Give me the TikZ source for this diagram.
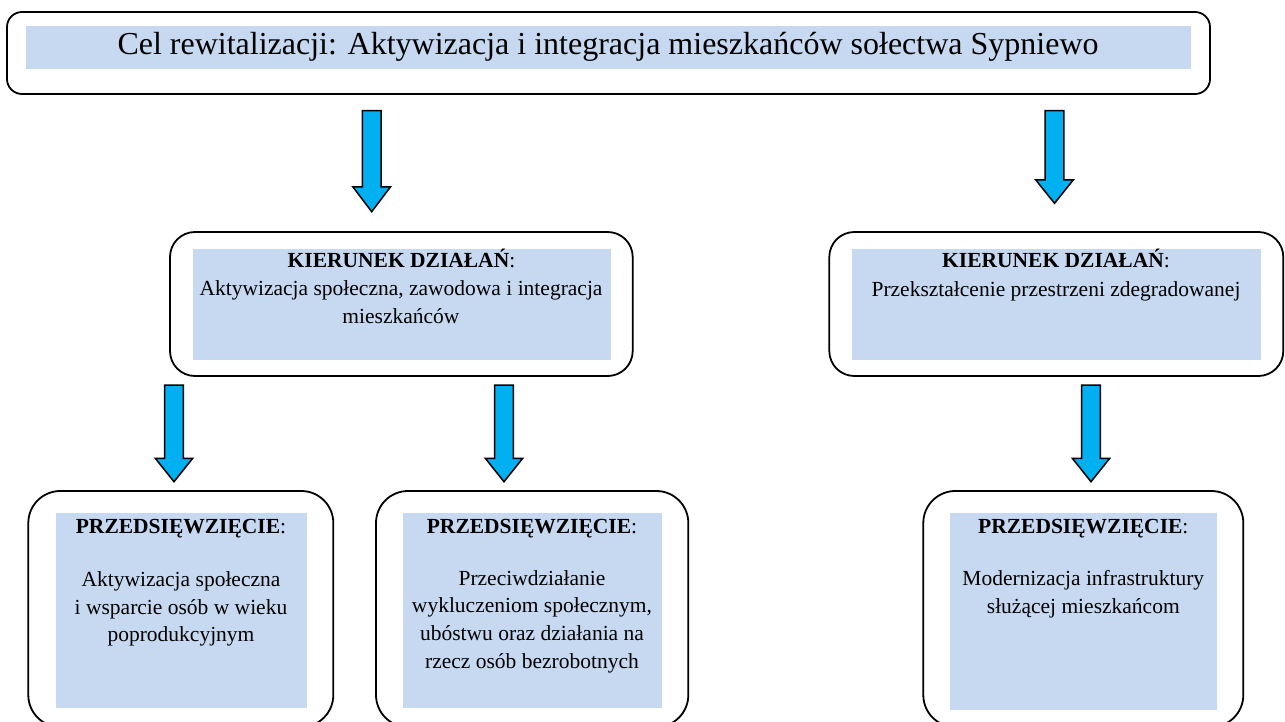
\documentclass[tikz,border=0pt]{standalone}
\usepackage{fontspec}
\setmainfont{Liberation Serif}
\definecolor{fillblue}{HTML}{C6D9F1}
\definecolor{arrowblue}{HTML}{00B0F0}
\tikzset{
  outerbox/.style={draw=black, line width=1.8pt, fill=white},
  innerfill/.style={fill=fillblue, draw=none},
  blockarrow/.style={draw=black, line width=1.5pt, fill=arrowblue, line join=miter},
  bodytext/.style={font=\fontsize{21.5}{27.7}\selectfont, align=center, inner sep=0pt, anchor=base},
  headtext/.style={font=\fontsize{21.5}{27.7}\selectfont, inner sep=0pt, anchor=base},
}
\newcommand{\downarrowshape}[5]{% center x, top y, head y, tip y, name
  \draw[blockarrow] (#1-9.3,#2) -- (#1+9.3,#2) -- (#1+9.3,#3) -- (#1+18.7,#3) -- (#1,#4) -- (#1-18.7,#3) -- (#1-9.3,#3) -- cycle;
  \coordinate (#5) at (#1,#4);
}
\begin{document}
\begin{tikzpicture}[x=1pt,y=-1pt]
\useasboundingbox (0,0) rectangle (1285,722);
\clip (0,0) rectangle (1285,722);
% top goal box
\draw[outerbox, rounded corners=15pt] (7,12) rectangle (1210,94);
\node[innerfill, minimum width=1165pt, minimum height=43pt, inner sep=0pt] (goalfill) at (608.5,47.5) {};
\node[font=\fontsize{32}{38}\selectfont, inner sep=0pt, anchor=base] (goal) at (608,55) {Cel rewitalizacji: Aktywizacja i integracja mieszkańców sołectwa Sypniewo};

% arrows from goal
\downarrowshape{371.7}{110.7}{187}{211.7}{a1}
\downarrowshape{1054.5}{110.7}{180}{203.3}{a2}

% middle-left direction box
\draw[outerbox, rounded corners=25pt] (170,232) rectangle (632.7,376);
\node[innerfill, minimum width=418.3pt, minimum height=111pt, inner sep=0pt] (dirAfill) at (401.85,304.5) {};
\node[headtext] (dirAhead) at (401.5,267.7) {\textbf{KIERUNEK DZIAŁAŃ}:};
\node[bodytext] (dirAbody) at (401,323) {Aktywizacja społeczna, zawodowa i integracja\\mieszkańców};

% middle-right direction box
\draw[outerbox, rounded corners=25pt] (829.3,232) rectangle (1283.3,376);
\node[innerfill, minimum width=409pt, minimum height=111pt, inner sep=0pt] (dirBfill) at (1056.5,304.5) {};
\node[headtext] (dirBhead) at (1056,267.7) {\textbf{KIERUNEK DZIAŁAŃ}:};
\node[bodytext] (dirBbody) at (1056,296.7) {Przekształcenie przestrzeni zdegradowanej};

% arrows to projects
\downarrowshape{174}{385}{458.3}{481.7}{a3}
\downarrowshape{504}{385}{458.3}{481.7}{a4}
\downarrowshape{1091}{385}{458.3}{481.7}{a5}

% bottom-left project
\draw[outerbox, rounded corners=32pt] (28.3,491) rectangle (333.3,727);
\node[innerfill, minimum width=250.7pt, minimum height=195pt, inner sep=0pt] (projAfill) at (181.35,610.8) {};
\node[headtext] (projAhead) at (181,533.3) {\textbf{PRZEDSIĘWZIĘCIE}:};
\node[bodytext] (projAbody) at (181,641.7) {Aktywizacja społeczna\\i wsparcie osób w wieku\\poprodukcyjnym};

% bottom-middle project
\draw[outerbox, rounded corners=32pt] (376,491) rectangle (688.3,727);
\node[innerfill, minimum width=259pt, minimum height=195pt, inner sep=0pt] (projBfill) at (532.2,610.8) {};
\node[headtext] (projBhead) at (532,533.3) {\textbf{PRZEDSIĘWZIĘCIE}:};
\node[bodytext] (projBbody) at (532,668.3) {Przeciwdziałanie\\wykluczeniom społecznym,\\ubóstwu oraz działania na\\rzecz osób bezrobotnych};

% bottom-right project
\draw[outerbox, rounded corners=32pt] (923.3,491) rectangle (1243.3,727);
\node[innerfill, minimum width=266.7pt, minimum height=196.7pt, inner sep=0pt] (projCfill) at (1083.35,611.65) {};
\node[headtext] (projChead) at (1083.3,533.3) {\textbf{PRZEDSIĘWZIĘCIE}:};
\node[bodytext] (projCbody) at (1083.3,613) {Modernizacja infrastruktury\\służącej mieszkańcom};
\end{tikzpicture}
\end{document}
